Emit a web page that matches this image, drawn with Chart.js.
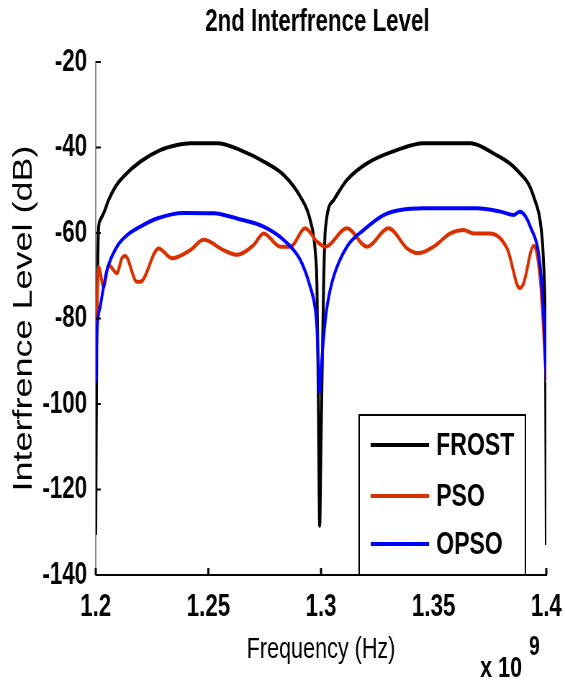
<!DOCTYPE html>
<html>
<head>
<meta charset="utf-8">
<title>2nd Interfrence Level</title>
<script src="https://cdn.jsdelivr.net/npm/chart.js@4.4.1/dist/chart.umd.min.js"></script>
<style>
  html, body { margin: 0; padding: 0; background: #fff; }
  canvas { display: block; }
</style>
</head>
<body>
<!-- canvas is drawn wider and squeezed by css, like the original figure -->
<canvas id="chart" width="785" height="685" style="width:565px;height:685px"></canvas>
<script>
// frequency in units of 1e9 Hz, level in dB
const frostFreq = [1.2000, 1.2002, 1.2005, 1.2009, 1.2012, 1.2020, 1.2035, 1.2057, 1.2087, 1.2123, 1.2198, 1.2286, 1.2361, 1.2420, 1.2538, 1.2642, 1.2760, 1.2834, 1.2908, 1.2952, 1.2975, 1.2982, 1.2989, 1.2994, 1.2999, 1.3003, 1.3008, 1.3012, 1.3019, 1.3056, 1.3115, 1.3204, 1.3337, 1.3455, 1.3663, 1.3766, 1.3870, 1.3944, 1.3981, 1.3987, 1.3993, 1.3997, 1.4000];
const frostLevel = [-130.6, -108, -83, -67, -59.3, -57, -55.4, -52.3, -49.2, -46.8, -43.3, -40.6, -39.4, -39, -39, -40.6, -43.7, -46.4, -51.5, -57, -64.7, -72.6, -103.7, -128.5, -113, -99, -82.7, -71, -59.3, -52.3, -47.6, -43.7, -40.6, -39, -39, -41.4, -45.3, -51.5, -60.9, -66, -75, -92, -133];

const psoFreq = [1.2000, 1.2012, 1.2035, 1.2057, 1.2094, 1.2116, 1.2131, 1.2183, 1.2198, 1.2279, 1.2338, 1.2420, 1.2479, 1.2567, 1.2627, 1.2701, 1.2745, 1.2819, 1.2864, 1.2930, 1.2982, 1.3019, 1.3115, 1.3204, 1.3300, 1.3382, 1.3433, 1.3500, 1.3574, 1.3633, 1.3677, 1.3751, 1.3826, 1.3882, 1.3899, 1.3944, 1.3975, 1.4000];
const psoLevel = [-89.7, -67.9, -72.6, -67.5, -69.4, -65.9, -65.4, -71.4, -71.4, -63.6, -65.9, -64, -61.6, -64, -65.1, -62.8, -60.1, -63.2, -63.2, -58.9, -62, -63.2, -58.9, -63.2, -58.9, -63.6, -64.7, -63.2, -60.1, -59.3, -60.1, -60.1, -63.6, -72.9, -71.8, -63, -72, -94.9];

const opsoFreq = [1.2000, 1.2005, 1.2020, 1.2050, 1.2094, 1.2139, 1.2198, 1.2272, 1.2390, 1.2523, 1.2627, 1.2745, 1.2834, 1.2908, 1.2952, 1.2975, 1.2982, 1.2994, 1.3003, 1.3019, 1.3029, 1.3056, 1.3115, 1.3189, 1.3278, 1.3352, 1.3455, 1.3692, 1.3796, 1.3855, 1.3882, 1.3929, 1.3973, 1.3989, 1.4000];
const opsoLevel = [-94.9, -83.5, -77.2, -68.7, -63.2, -60.5, -58.5, -56.6, -55.3, -55.4, -56.6, -58.5, -61.6, -66.3, -72.6, -78, -82.5, -97.1, -90, -80.4, -76.5, -70.2, -63.2, -59.3, -55.8, -54.6, -54.2, -54.2, -55, -55.8, -55, -58.5, -67.9, -80.4, -94.6];

const xTicks = [1.2, 1.25, 1.3, 1.35, 1.4];
const yTicks = [-140, -120, -100, -80, -60, -40, -20];
const seriesNames = ["FROST", "PSO", "OPSO"];
const seriesColors = ["#000000", "#d93000", "#0000ff"];

const FONT = "'Liberation Sans', Arial, Helvetica, sans-serif";

const toPoints = (xs, ys) => xs.map((x, i) => ({ x: x, y: ys[i] }));

function makeSet(i, xs, ys, order) {
  return {
    label: seriesNames[i],
    data: toPoints(xs, ys),
    borderColor: seriesColors[i],
    backgroundColor: seriesColors[i],
    borderWidth: 4,
    pointRadius: 0,
    fill: false,
    cubicInterpolationMode: "monotone",
    order: order
  };
}

// title, inner tick marks, exponent and the boxed legend
const decor = {
  id: "decor",
  afterDraw(chart) {
    const ctx = chart.ctx;
    const area = chart.chartArea;
    const xs = chart.scales.x;
    const ys = chart.scales.y;
    ctx.save();

    // tick marks pointing inward
    ctx.strokeStyle = "#000";
    ctx.lineWidth = 2;
    yTicks.forEach(v => {
      const y = ys.getPixelForValue(v);
      ctx.beginPath();
      ctx.moveTo(area.left, y);
      ctx.lineTo(area.left + 7, y);
      ctx.stroke();
    });
    ctx.lineWidth = 3;
    xTicks.forEach(v => {
      const x = xs.getPixelForValue(v);
      ctx.beginPath();
      ctx.moveTo(x, area.bottom);
      ctx.lineTo(x, area.bottom - 7);
      ctx.stroke();
    });

    // title
    ctx.fillStyle = "#000";
    ctx.font = "bold 31px " + FONT;
    ctx.textAlign = "center";
    ctx.textBaseline = "middle";
    ctx.fillText("2nd Interfrence Level", 441, 22);

    // x 10^9
    ctx.textAlign = "left";
    ctx.textBaseline = "alphabetic";
    ctx.font = "bold 30px " + FONT;
    ctx.fillText("x 10", 667, 677);
    ctx.font = "bold 27px " + FONT;
    ctx.fillText("9", 735, 655);

    // legend
    const box = { left: 499, top: 415, right: 730, bottom: area.bottom };
    ctx.fillStyle = "#fff";
    ctx.fillRect(box.left, box.top, box.right - box.left, box.bottom - box.top);
    ctx.strokeStyle = "#000";
    ctx.lineWidth = 2;
    ctx.strokeRect(box.left, box.top, box.right - box.left, box.bottom - box.top);
    const rows = [445, 496, 544];
    ctx.font = "bold 32px " + FONT;
    ctx.textBaseline = "middle";
    chart.data.datasets.forEach((ds, i) => {
      ctx.strokeStyle = ds.borderColor;
      ctx.lineWidth = 4;
      ctx.beginPath();
      ctx.moveTo(515, rows[i]);
      ctx.lineTo(596, rows[i]);
      ctx.stroke();
      ctx.fillStyle = "#000";
      ctx.fillText(ds.label, 606, rows[i] + 1);
    });

    ctx.restore();
  }
};

const ctx = document.getElementById("chart").getContext("2d");
new Chart(ctx, {
  type: "line",
  data: {
    datasets: [
      makeSet(0, frostFreq, frostLevel, 3),
      makeSet(1, psoFreq, psoLevel, 2),
      makeSet(2, opsoFreq, opsoLevel, 1)
    ]
  },
  options: {
    responsive: false,
    animation: false,
    devicePixelRatio: 1,
    layout: { padding: { top: 62, right: 26, left: 0, bottom: 0 } },
    plugins: {
      legend: { display: false },
      tooltip: { enabled: false },
      title: { display: false }
    },
    scales: {
      x: {
        type: "linear",
        min: 1.2,
        max: 1.4,
        afterBuildTicks: s => { s.ticks = xTicks.map(v => ({ value: v })); },
        afterFit: s => { s.height = 110; s.paddingLeft = 0; s.paddingRight = 0; },
        grid: { display: true, drawOnChartArea: false, drawTicks: false },
        border: { display: true, color: "#000", width: 2 },
        ticks: {
          padding: 14,
          color: "#000",
          autoSkip: false,
          maxRotation: 0,
          font: { family: FONT, size: 31, weight: "bold" },
          callback: v => String(v)
        },
        title: {
          display: true,
          text: "Frequency (Hz)",
          color: "#000",
          font: { family: FONT, size: 30 },
          padding: { top: 0, bottom: 17 }
        }
      },
      y: {
        min: -140,
        max: -20,
        afterBuildTicks: s => { s.ticks = yTicks.map(v => ({ value: v })); },
        afterFit: s => { s.width = 133; s.paddingTop = 0; s.paddingBottom = 0; },
        grid: { display: true, drawOnChartArea: false, drawTicks: false },
        border: { display: true, color: "#8a8a8a", width: 2 },
        ticks: {
          padding: 12,
          color: "#000",
          font: { family: FONT, size: 31, weight: "bold" }
        },
        title: {
          display: true,
          text: "Interfrence Level (dB)",
          color: "#000",
          font: { family: FONT, size: 36 },
          padding: { top: 12, bottom: 0 }
        }
      }
    }
  },
  plugins: [decor]
});
</script>
</body>
</html>
